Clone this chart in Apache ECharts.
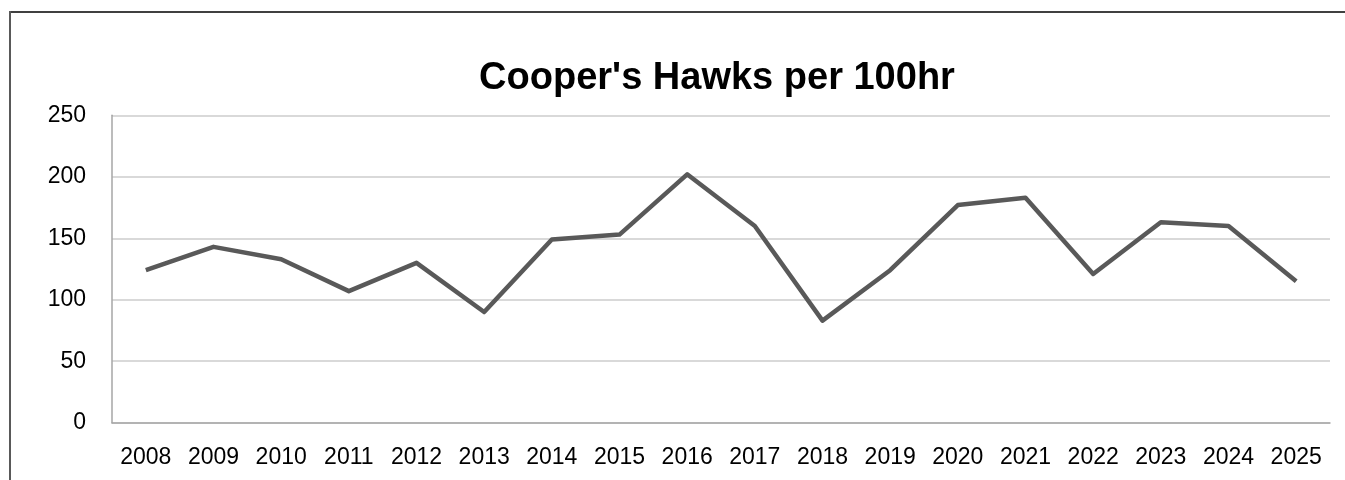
<!DOCTYPE html>
<html>
<head>
<meta charset="utf-8">
<script src="https://cdn.jsdelivr.net/npm/echarts@6/dist/echarts.min.js"></script>
<style>html,body{margin:0;padding:0;background:#fff}#c{width:1345px;height:480px}</style>
</head>
<body>
<div id="c"></div>
<script>
const years = ['2008','2009','2010','2011','2012','2013','2014','2015','2016','2017','2018','2019','2020','2021','2022','2023','2024','2025'];
const hawksPer100hr = [124,143,133,107,130,90,149,153,202,160,83,124,177,183,121,163,160,115];
const chartTitle = "Cooper's Hawks per 100hr";

const chart = echarts.init(document.getElementById('c'), null, {renderer:'canvas'});
chart.setOption({
  animation:false,
  backgroundColor:'#fff',
  title:{
    text:chartTitle,
    left:712, top:55, textAlign:'center',
    textStyle:{fontFamily:'Liberation Sans', fontWeight:'bold', fontSize:38, color:'#000'}
  },
  graphic:[
    {type:'line', shape:{x1:9, y1:12, x2:1345, y2:12}, style:{stroke:'#000', lineWidth:1.5}},
    {type:'line', shape:{x1:10, y1:11, x2:10, y2:480}, style:{stroke:'#595959', lineWidth:2}}
  ],
  grid:{left:112, right:15, top:115.3, bottom:57.3},
  xAxis:{
    type:'category', data:years, boundaryGap:true,
    axisLine:{lineStyle:{color:'#a6a6a6', width:1.5}},
    axisTick:{show:false},
    axisLabel:{fontFamily:'Liberation Sans', fontSize:23, color:'#000', margin:23, interval:0}
  },
  yAxis:{
    type:'value', min:0, max:250, interval:50,
    axisLine:{show:true, lineStyle:{color:'#a6a6a6', width:1.5}},
    axisTick:{show:false},
    splitLine:{lineStyle:{color:'#cccccc', width:1.5}},
    axisLabel:{fontFamily:'Liberation Sans', fontSize:23, color:'#000', margin:26}
  },
  series:[{
    type:'line', data:hawksPer100hr, showSymbol:false, symbol:'none',
    lineStyle:{color:'#595959', width:4.5, join:'round'}, itemStyle:{color:'#595959'}
  }]
});
</script>
</body>
</html>
